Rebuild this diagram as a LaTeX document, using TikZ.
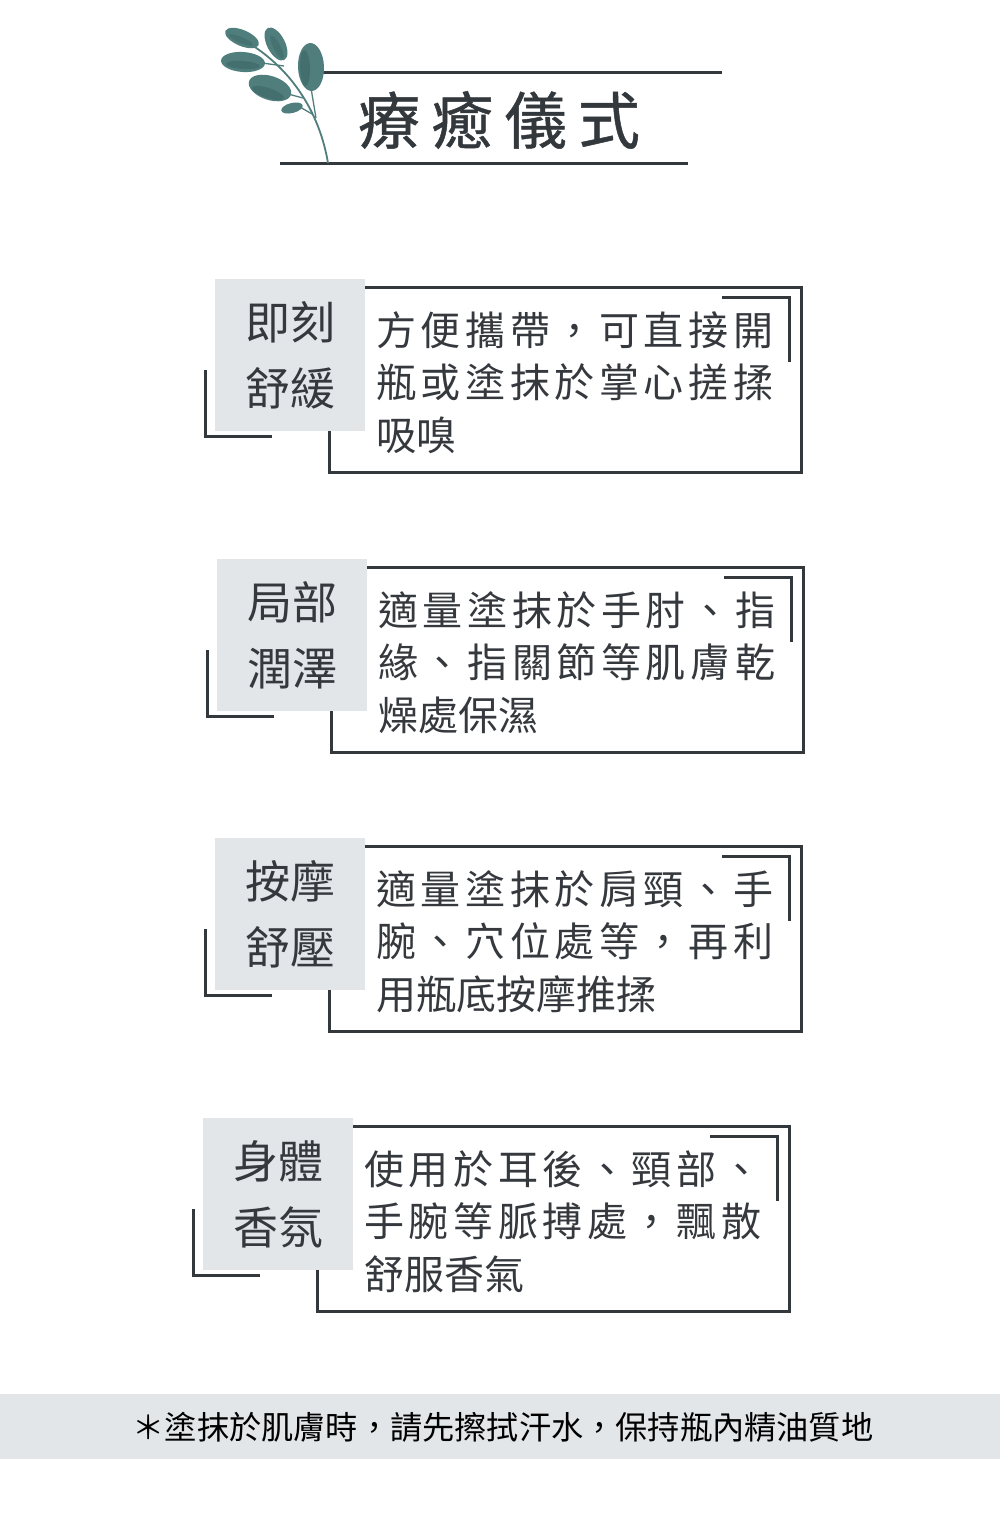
\documentclass[tikz,border=0pt]{standalone}
\usepackage{fontspec}
\setmainfont{Noto Sans CJK TC}
\definecolor{ink}{HTML}{33383D}
\definecolor{txt}{HTML}{35393E}
\definecolor{panelgray}{HTML}{E3E6E9}
\definecolor{leafc}{HTML}{507E7D}
\definecolor{leafdark}{HTML}{3A6463}
\makeatletter
\def\spr#1{\spr@a#1\relax}
\def\spr@a#1{#1\futurelet\spr@next\spr@b}
\def\spr@b{\ifx\spr@next\relax\expandafter\spr@end\else\hfill\expandafter\spr@a\fi}
\def\spr@end\relax{}
\makeatother
\newcommand\jline[1]{\hbox to 397pt{\spr{#1}}}
\tikzset{
  frame/.style={draw=ink, line width=3pt},
  labelbox/.style={fill=panelgray, minimum width=150pt, minimum height=152pt, inner sep=0pt,
     align=center, text=txt, font=\fontsize{45}{66}\selectfont},
  desc/.style={anchor=west, inner sep=0pt, text=txt, font=\fontsize{40}{47}\selectfont},
  leafshape/.style={fill=leafc},
  twig/.style={draw=leafc, line width=1.3pt},
}
\newcommand\panel[8]{%
\begin{scope}[shift={(#1,#2)}]
  \draw[frame] (329,287) rectangle (801,472);
  \draw[frame] (722,297) -- (789,297) -- (789,362);
  \draw[frame] (205,370) -- (205,436) -- (272,436);
  \node[labelbox] (#3label) at (290,355) {#4};
  \node[desc] (#3a) at (376,330) {\jline{#5}};
  \node[desc] (#3b) at (376,382) {\jline{#6}};
  \node[desc] (#3c) at (376,435) {#7};
\end{scope}}
\begin{document}
\begin{tikzpicture}[x=1pt,y=-1pt]
\useasboundingbox[fill=white] (0,0) rectangle (1000,1519);
% title
\draw[frame] (312,72) -- (722,72);
\draw[frame] (280,163) -- (688,163);
% leaf
\draw[twig, line width=1.8pt] (328,163) .. controls (320,115) and (292,62) .. (230,33);
\draw[twig] (316,118) -- (311,88);
\draw[twig] (303,98) -- (288,94);
\draw[twig] (312,114) -- (300,107);
\draw[twig] (284,66) -- (262,63);
\fill[leafshape, rotate around={-23:(242,38)}] (242,38) ellipse [x radius=18, y radius=8];
\fill[leafshape, rotate around={-63:(276,44)}] (276,44) ellipse [x radius=18, y radius=9];
\fill[leafshape, rotate around={-4:(243,62)}] (243,62) ellipse [x radius=22, y radius=10];
\fill[leafshape, rotate around={92:(311,67)}] (311,67) ellipse [x radius=24, y radius=13];
\fill[leafshape, rotate around={-18:(270,88)}] (270,88) ellipse [x radius=22, y radius=12];
\fill[leafshape, rotate around={14:(292,108)}] (292,108) ellipse [x radius=11, y radius=5];
\fill[leafdark, opacity=.55, rotate around={-4:(243,65)}] (243,65) ellipse [x radius=17, y radius=4];
\fill[leafdark, opacity=.55, rotate around={-18:(268,93)}] (268,93) ellipse [x radius=17, y radius=5];
\fill[leafdark, opacity=.55, rotate around={92:(305,68)}] (305,68) ellipse [x radius=18, y radius=5];
\fill[leafdark, opacity=.45, rotate around={-23:(241,40)}] (241,40) ellipse [x radius=13, y radius=3];
\fill[leafdark, opacity=.45, rotate around={-63:(277,47)}] (277,47) ellipse [x radius=13, y radius=3.5];
\node[inner sep=0pt, text=ink, font=\fontsize{62}{70}\selectfont\addfontfeature{FakeBold=0.8}] (title) at (499,120) {\hbox to 282pt{\spr{療癒儀式}}};
% panels
\panel{0}{0}{p1}{即刻\\舒緩}{方便攜帶，可直接開}{瓶或塗抹於掌心搓揉}{吸嗅}{}
\panel{2}{280}{p2}{局部\\潤澤}{適量塗抹於手肘、指}{緣、指關節等肌膚乾}{燥處保濕}{}
\panel{0}{559}{p3}{按摩\\舒壓}{適量塗抹於肩頸、手}{腕、穴位處等，再利}{用瓶底按摩推揉}{}
\panel{-12}{839}{p4}{身體\\香氛}{使用於耳後、頸部、}{手腕等脈搏處，飄散}{舒服香氣}{}
% footer
\fill[panelgray] (0,1394) rectangle (1000,1459);
\node[inner sep=0pt, text=black, font=\fontsize{32.2}{36}\selectfont] (note) at (503,1427) {＊塗抹於肌膚時，請先擦拭汗水，保持瓶內精油質地};
\end{tikzpicture}
\end{document}
